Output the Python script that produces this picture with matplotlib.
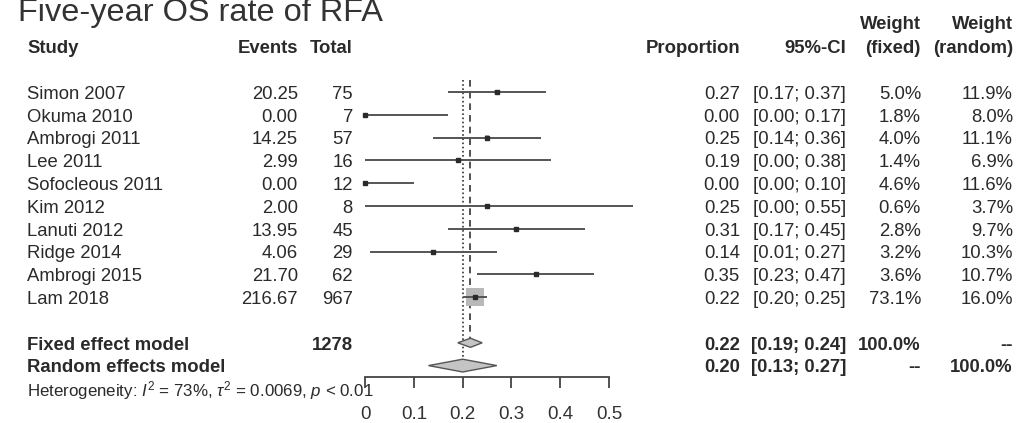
import numpy as np
import matplotlib
matplotlib.use("Agg")
import matplotlib.pyplot as plt
import matplotlib.transforms as mtransforms

plt.rcParams["font.family"] = ["Liberation Sans", "DejaVu Sans"]
plt.rcParams["mathtext.fontset"] = "custom"
plt.rcParams["mathtext.rm"] = "Liberation Sans"
plt.rcParams["mathtext.it"] = "Liberation Sans:italic"

studies = ["Simon 2007", "Okuma 2010", "Ambrogi 2011", "Lee 2011", "Sofocleous 2011",
           "Kim 2012", "Lanuti 2012", "Ridge 2014", "Ambrogi 2015", "Lam 2018"]
events = [20.25, 0.00, 14.25, 2.99, 0.00, 2.00, 13.95, 4.06, 21.70, 216.67]
totals = [75, 7, 57, 16, 12, 8, 45, 29, 62, 967]
prop = [0.27, 0.00, 0.25, 0.19, 0.00, 0.25, 0.31, 0.14, 0.35, 0.225]
ci_lo = [0.17, 0.00, 0.14, 0.00, 0.00, 0.00, 0.17, 0.01, 0.23, 0.20]
ci_hi = [0.37, 0.17, 0.36, 0.38, 0.10, 0.55, 0.45, 0.27, 0.47, 0.25]
prop_txt = ["0.27", "0.00", "0.25", "0.19", "0.00", "0.25", "0.31", "0.14", "0.35", "0.22"]
ci_txt = ["[0.17; 0.37]", "[0.00; 0.17]", "[0.14; 0.36]", "[0.00; 0.38]", "[0.00; 0.10]",
          "[0.00; 0.55]", "[0.17; 0.45]", "[0.01; 0.27]", "[0.23; 0.47]", "[0.20; 0.25]"]
w_fixed = [5.0, 1.8, 4.0, 1.4, 4.6, 0.6, 2.8, 3.2, 3.6, 73.1]
w_random = [11.9, 8.0, 11.1, 6.9, 11.6, 3.7, 9.7, 10.3, 10.7, 16.0]

fixed_est, fixed_lo, fixed_hi = 0.216, 0.19, 0.24
random_est, random_lo, random_hi = 0.20, 0.13, 0.27
total_n = 1278
xticks = [0, 0.1, 0.2, 0.3, 0.4, 0.5]

TXT = "#2a2a2a"
LINE = "#555555"

fig = plt.figure(figsize=(10.2, 4.23), dpi=100)
ax = fig.add_axes([0, 0, 1, 1])
ax.set_xlim(-0.748, 1.342)
ax.set_ylim(14.518, -4.035)
ax.patch.set_visible(False)
for s in ["left", "right", "top"]:
    ax.spines[s].set_visible(False)
ax.spines["bottom"].set_position(("data", 12.5))
ax.spines["bottom"].set_bounds(0, 0.5)
ax.spines["bottom"].set_color("#444444")
ax.spines["bottom"].set_linewidth(1.3)
ax.set_yticks([])
ax.set_xticks(xticks)
ax.set_xticklabels([f"{t:g}" for t in xticks])
ax.tick_params(axis="x", direction="out", length=8, width=1.3, color="#444444",
               pad=13, labelsize=13.5, labelcolor="#333333")

rows = np.arange(len(studies))
fixed_row, random_row = 11, 12

# reference lines
ax.vlines(fixed_est, -0.53, fixed_row - 0.2, colors="#333333", linestyles=(0, (4, 3)), lw=1.2)
ax.vlines(random_est, -0.53, random_row - 0.28, colors="#333333", linestyles=(0, (1, 1.5)), lw=1.2)

# study boxes, CI lines, estimates
side_pt = 18 * np.sqrt(np.array(w_fixed) / max(w_fixed)) * 0.72
ax.scatter(prop, rows, s=side_pt ** 2, marker="s", color="#b8b8b8", lw=0, zorder=2)
ax.hlines(rows, ci_lo, ci_hi, colors=LINE, lw=1.4, zorder=3)
ax.plot(prop, rows, "s", ms=2.8, color="#2a2a2a", zorder=4)

# diamonds
ax.fill([fixed_lo, fixed_est, fixed_hi, fixed_est],
        [fixed_row, fixed_row - 0.2, fixed_row, fixed_row + 0.2],
        facecolor="#c4c4c4", edgecolor="#555555", lw=1.0, zorder=3)
ax.fill([random_lo, random_est, random_hi, random_est],
        [random_row, random_row - 0.28, random_row, random_row + 0.28],
        facecolor="#c4c4c4", edgecolor="#555555", lw=1.0, zorder=3)

# text columns (x in figure pixels / width, y in rows)
tr = mtransforms.blended_transform_factory(fig.transFigure, ax.transData)
W = 1020.0
FS = 13.3
BL = 0.3


def put(px, row, s, ha="left", bold=False, size=FS, color=TXT):
    ax.text(px / W, row, s, transform=tr, ha=ha, va="baseline", fontsize=size,
            fontweight="bold" if bold else "normal", color=color)


put(18, -3.1, "Five-year OS rate of RFA", size=23.4, color="#333333")

hdr = -1.71
put(27, hdr, "Study", bold=True)
put(298, hdr, "Events", ha="right", bold=True)
put(353, hdr, "Total", ha="right", bold=True)
put(740, hdr, "Proportion", ha="right", bold=True)
put(846, hdr, "95%-CI", ha="right", bold=True)
put(921, hdr, "(fixed)", ha="right", bold=True)
put(1013, hdr, "(random)", ha="right", bold=True)
put(921, -2.76, "Weight", ha="right", bold=True)
put(1013, -2.76, "Weight", ha="right", bold=True)

for i in range(len(studies)):
    y = rows[i] + BL
    put(27, y, studies[i])
    put(298, y, f"{events[i]:.2f}", ha="right")
    put(353, y, f"{totals[i]}", ha="right")
    put(740, y, prop_txt[i], ha="right")
    put(846, y, ci_txt[i], ha="right")
    put(921, y, f"{w_fixed[i]:.1f}%", ha="right")
    put(1013, y, f"{w_random[i]:.1f}%", ha="right")

y = fixed_row + BL
put(27, y, "Fixed effect model", bold=True)
put(353, y, f"{total_n}", ha="right", bold=True)
put(740, y, "0.22", ha="right", bold=True)
put(846, y, "[0.19; 0.24]", ha="right", bold=True)
put(921, y, "100.0%", ha="right", bold=True)
put(1013, y, "--", ha="right", bold=True)

y = random_row + BL
put(27, y, "Random effects model", bold=True)
put(740, y, "0.20", ha="right", bold=True)
put(846, y, "[0.13; 0.27]", ha="right", bold=True)
put(921, y, "--", ha="right", bold=True)
put(1013, y, "100.0%", ha="right", bold=True)

put(27, 13.36, r"Heterogeneity: $I^2$ = 73%, $\tau^2$ = 0.0069, $p$ < 0.01", size=12.2)

fig.savefig("out.png", dpi=100)
plt.close(fig)
